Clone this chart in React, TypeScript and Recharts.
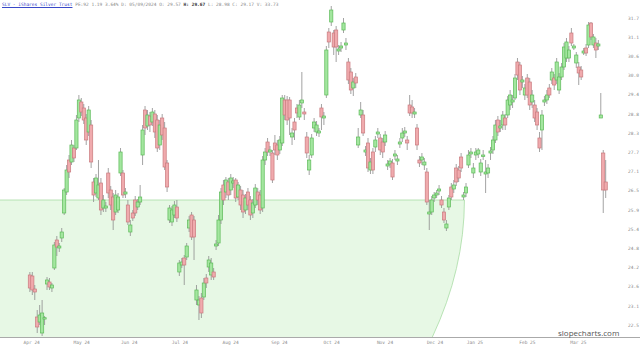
import { ComposedChart, Bar, XAxis, YAxis, ReferenceArea } from 'recharts';

// daily OHLC
const opens = [
  24.00, 23.97, 23.58, 22.74, 22.59, 22.26, 22.68, 23.73, 23.79, 23.61,
  24.21, 25.05, 24.81, 25.11, 25.86, 26.49, 27.45, 27.39, 27.81, 27.81,
  28.71, 29.19, 29.01, 28.71, 28.29, 28.50, 26.79, 26.46, 26.31, 26.76,
  26.01, 26.01, 27.06, 26.55, 26.34, 25.89, 25.95, 27.06, 27.06, 26.43,
  26.10, 25.29, 25.86, 26.25, 26.04, 26.19, 27.60, 28.95, 28.47, 28.77,
  28.59, 28.83, 28.65, 27.90, 28.71, 28.41, 27.36, 25.65, 25.59, 25.80,
  26.04, 24.09, 24.30, 24.51, 24.54, 25.41, 25.80, 25.65, 23.25, 23.10,
  23.31, 23.34, 23.91, 24.24, 24.00, 24.09, 24.87, 24.96, 25.65, 26.70,
  26.49, 26.79, 26.55, 26.76, 26.85, 26.34, 26.55, 26.40, 25.95, 26.49,
  26.25, 25.86, 26.10, 26.49, 26.40, 26.01, 27.45, 27.99, 27.69, 27.66,
  27.96, 27.90, 27.75, 27.96, 29.25, 29.25, 29.25, 28.14, 28.59, 29.01,
  28.74, 29.16, 28.89, 28.14, 27.15, 27.60, 28.41, 28.29, 28.26, 29.01,
  28.71, 29.40, 31.29, 31.59, 31.26, 31.35, 30.72, 30.81, 31.35, 30.90,
  30.39, 30.09, 29.61, 29.94, 27.90, 28.80, 28.80, 27.69, 27.96, 27.15,
  27.69, 27.84, 28.23, 28.11, 27.99, 27.99, 27.27, 27.33, 27.36, 27.57,
  27.42, 27.93, 28.11, 28.26, 28.05, 29.10, 29.04, 28.83, 28.41, 27.45,
  27.45, 27.30, 27.09, 25.83, 25.89, 26.31, 26.40, 26.52, 26.25, 25.89,
  25.41, 26.04, 26.64, 26.58, 27.21, 27.15, 27.54, 26.34, 26.46, 27.30,
  27.63, 27.06, 27.60, 27.63, 27.09, 27.57, 27.03, 27.06, 27.66, 27.75,
  28.05, 28.65, 28.41, 28.50, 28.71, 28.80, 29.10, 29.19, 29.31, 30.39,
  30.30, 29.79, 29.40, 29.91, 29.79, 29.19, 29.10, 28.89, 28.11, 28.35,
  29.19, 29.25, 29.61, 29.85, 29.91, 29.85, 29.55, 29.94, 30.24, 30.51,
  30.51, 31.26, 30.81, 30.36, 30.24, 30.15, 30.66, 30.81, 30.90, 31.56,
  30.90, 30.96, 30.87, 28.71, 27.66, 26.79,
];

const highs = [
  24.09, 24.09, 23.70, 22.95, 23.10, 23.25, 22.77, 23.94, 23.91, 23.76,
  24.99, 25.17, 24.96, 25.41, 26.61, 27.30, 27.60, 28.05, 27.90, 28.80,
  29.40, 29.31, 29.13, 28.83, 29.07, 28.65, 26.91, 27.03, 27.45, 26.91,
  26.40, 26.19, 27.21, 26.67, 26.46, 26.55, 26.46, 27.81, 27.15, 26.61,
  26.25, 25.65, 25.95, 26.37, 26.28, 26.70, 28.50, 29.07, 28.95, 28.89,
  29.01, 28.95, 28.80, 28.65, 28.83, 28.59, 27.45, 26.10, 26.07, 26.22,
  26.25, 24.45, 24.51, 24.60, 24.96, 25.77, 25.89, 25.77, 23.70, 23.37,
  23.46, 23.91, 24.03, 24.57, 24.51, 24.21, 25.05, 25.80, 26.61, 26.85,
  26.94, 26.91, 27.03, 26.94, 26.91, 26.79, 26.67, 26.55, 26.43, 26.61,
  26.37, 26.28, 26.73, 26.61, 26.55, 27.57, 27.81, 28.11, 27.87, 27.75,
  28.20, 28.05, 28.17, 29.40, 29.40, 29.37, 29.34, 28.41, 28.71, 29.13,
  29.25, 30.09, 29.01, 28.29, 27.60, 28.23, 28.71, 28.62, 28.41, 29.13,
  28.89, 30.87, 31.41, 32.07, 31.35, 31.47, 30.90, 30.99, 31.71, 31.11,
  30.51, 30.21, 29.91, 30.06, 28.41, 29.19, 28.95, 27.87, 28.11, 27.51,
  27.81, 28.17, 28.41, 28.23, 28.11, 28.32, 27.45, 27.51, 27.48, 27.75,
  27.60, 28.11, 28.41, 28.44, 28.17, 29.40, 29.25, 29.01, 28.53, 27.57,
  27.66, 27.51, 27.21, 26.25, 26.37, 26.49, 26.55, 26.70, 26.37, 26.01,
  25.65, 26.40, 26.76, 26.85, 27.33, 27.27, 27.66, 26.49, 26.76, 27.75,
  27.81, 27.36, 27.81, 27.81, 27.48, 27.75, 27.45, 27.33, 27.84, 28.17,
  28.65, 28.77, 28.65, 28.92, 28.83, 29.37, 29.55, 29.40, 30.03, 30.51,
  30.39, 29.97, 29.73, 30.03, 29.91, 29.55, 29.25, 29.01, 28.29, 28.95,
  29.37, 29.55, 29.73, 30.21, 30.03, 30.51, 30.06, 30.36, 30.96, 31.11,
  30.87, 31.41, 30.93, 30.69, 30.39, 30.27, 30.81, 30.93, 31.59, 31.59,
  31.23, 31.11, 31.05, 29.46, 27.75, 27.45,
];

const lows = [
  23.49, 23.40, 23.25, 22.26, 22.50, 22.17, 22.50, 23.55, 23.55, 23.49,
  24.15, 24.57, 24.69, 24.99, 25.80, 26.40, 26.91, 27.30, 27.39, 27.75,
  28.59, 28.77, 28.53, 27.90, 28.17, 27.21, 26.19, 26.34, 26.25, 25.80,
  25.89, 25.89, 26.31, 25.95, 25.35, 25.80, 25.86, 26.97, 26.31, 26.31,
  25.50, 25.17, 25.62, 25.77, 25.95, 26.10, 27.30, 28.20, 28.35, 28.29,
  28.47, 28.11, 27.69, 27.75, 28.05, 27.15, 26.49, 25.56, 25.47, 25.71,
  25.59, 23.97, 24.21, 23.70, 24.45, 25.29, 25.05, 24.45, 23.10, 22.65,
  22.71, 23.25, 23.61, 24.09, 23.85, 23.85, 24.75, 24.87, 25.53, 26.10,
  26.31, 26.25, 26.40, 26.61, 26.19, 26.25, 25.95, 25.71, 25.83, 25.95,
  25.65, 25.71, 26.01, 26.10, 25.83, 25.89, 27.30, 27.57, 27.57, 26.76,
  27.60, 27.45, 27.63, 27.87, 28.65, 28.50, 28.20, 27.90, 28.05, 28.71,
  28.65, 29.01, 28.65, 27.51, 27.00, 27.51, 28.29, 28.17, 28.14, 28.35,
  28.50, 29.31, 30.81, 31.47, 30.60, 30.39, 30.60, 30.69, 31.26, 30.75,
  29.73, 29.43, 29.37, 29.61, 27.81, 28.71, 28.17, 27.57, 27.09, 27.03,
  27.03, 27.69, 28.11, 27.60, 27.51, 27.87, 27.15, 27.21, 26.85, 27.45,
  27.30, 27.81, 27.99, 28.14, 27.75, 28.77, 28.71, 28.71, 27.75, 27.24,
  27.30, 27.15, 26.10, 25.35, 25.80, 26.19, 26.31, 26.40, 26.01, 25.56,
  25.32, 25.95, 26.25, 26.46, 26.67, 26.79, 27.09, 26.25, 26.34, 27.21,
  27.51, 26.91, 27.45, 27.51, 26.97, 27.45, 26.46, 26.91, 27.45, 27.63,
  27.96, 28.17, 28.29, 28.35, 28.35, 28.71, 28.95, 29.01, 29.25, 29.85,
  29.40, 29.61, 29.25, 29.31, 28.95, 29.01, 28.59, 28.35, 27.69, 27.75,
  29.07, 29.13, 29.31, 29.73, 29.55, 29.73, 29.43, 29.85, 30.15, 30.39,
  30.39, 30.87, 30.75, 30.21, 29.70, 29.85, 30.60, 30.57, 30.81, 31.05,
  30.81, 30.51, 30.75, 28.71, 25.86, 26.31,
];

const closes = [
  23.61, 23.55, 23.49, 22.44, 22.80, 22.86, 22.72, 23.85, 23.64, 23.70,
  24.90, 24.84, 24.87, 25.29, 26.55, 27.15, 27.09, 27.90, 27.51, 28.65,
  29.25, 28.89, 28.65, 28.05, 28.95, 27.39, 26.40, 26.91, 26.70, 25.95,
  26.25, 26.07, 26.46, 26.10, 25.65, 26.40, 26.34, 27.69, 26.40, 26.49,
  25.59, 25.50, 25.71, 25.86, 26.19, 26.34, 28.35, 28.41, 28.80, 28.50,
  28.89, 28.29, 27.81, 28.50, 28.20, 27.24, 26.64, 26.01, 25.95, 26.10,
  25.71, 24.36, 24.39, 24.30, 24.87, 25.65, 25.14, 25.14, 23.55, 23.25,
  22.86, 23.76, 23.76, 24.45, 24.36, 23.94, 24.93, 25.65, 26.49, 26.25,
  26.85, 26.40, 26.91, 26.82, 26.31, 26.70, 26.10, 25.89, 26.31, 26.10,
  25.80, 26.16, 26.61, 26.25, 25.95, 27.45, 27.69, 27.69, 27.75, 26.85,
  27.75, 27.60, 28.05, 29.31, 28.80, 28.65, 28.71, 28.26, 28.35, 28.86,
  29.10, 29.25, 28.83, 27.66, 27.45, 28.11, 28.59, 28.50, 28.32, 28.74,
  28.77, 30.75, 30.99, 31.95, 30.84, 30.84, 30.78, 30.87, 31.56, 30.96,
  29.85, 29.55, 29.79, 29.76, 28.14, 28.95, 28.26, 27.75, 27.21, 27.39,
  27.15, 28.05, 28.29, 27.75, 27.69, 28.20, 27.33, 27.42, 26.94, 27.63,
  27.48, 27.99, 28.26, 28.32, 27.96, 28.86, 28.86, 28.89, 27.90, 27.36,
  27.54, 27.39, 26.19, 25.89, 26.25, 26.40, 26.46, 26.58, 26.10, 25.65,
  25.53, 26.31, 26.34, 26.70, 26.79, 26.91, 27.21, 26.40, 26.64, 27.60,
  27.69, 27.21, 27.69, 27.75, 27.36, 27.60, 27.09, 27.21, 27.72, 28.05,
  28.50, 28.29, 28.47, 28.80, 28.50, 29.25, 29.40, 29.25, 29.91, 30.00,
  29.55, 29.85, 29.61, 29.40, 29.10, 29.40, 28.71, 28.50, 27.81, 28.80,
  29.25, 29.40, 29.40, 30.09, 29.70, 30.39, 29.94, 30.24, 30.84, 30.99,
  30.75, 30.96, 30.87, 30.60, 30.06, 29.94, 30.72, 30.66, 31.50, 31.14,
  31.14, 30.75, 30.93, 28.80, 26.55, 26.55,
];

const monthTicks = [0.7, 21.1, 40.5, 61.2, 81.9, 101.8, 123.1, 144.9, 165.3, 181.6, 203, 223.8];
const monthLabels = ['Apr 24', 'May 24', 'Jun 24', 'Jul 24', 'Aug 24', 'Sep 24', 'Oct 24', 'Nov 24', 'Dec 24', 'Jan 25', 'Feb 25', 'Mar 25'];

const priceTicks = [31.71, 31.13, 30.56, 29.98, 29.41, 28.83, 28.25, 27.68, 27.10, 26.53, 25.95, 25.37, 24.80, 24.22, 23.65, 23.07, 22.49];

// shaded zone: price level and the bar where its curved edge starts
const zoneLevel = 26.25;
const zoneEnd = 177.3;

const xDomain = [-12.24, 238.75];
const yDomain = [22.14, 32.25];

const data = opens.map((o, i) => ({
  i,
  o,
  h: highs[i],
  l: lows[i],
  c: closes[i],
  range: [lows[i], highs[i]],
}));

const Candle = (props: any) => {
  const { x, y, width, height, payload } = props;
  if (x == null || y == null) return null;
  const { o, h, l, c } = payload;
  const top = Math.min(y, y + height);
  const hh = Math.abs(height);
  const k = h === l ? 0 : hh / (h - l);
  const py = (v: number) => top + (h - v) * k;
  const cx = x + width / 2;
  const up = c >= o;
  const bTop = py(Math.max(o, c));
  const bBot = py(Math.min(o, c));
  const bh = Math.max(bBot - bTop, 1.4);
  return (
    <g>
      <line x1={cx} x2={cx} y1={top} y2={top + hh} stroke="#8c8c8c" strokeWidth={0.8} />
      <rect
        x={cx - 1.6}
        y={bTop}
        width={3.2}
        height={bh}
        fill={up ? '#a3e69f' : '#f0aaad'}
        stroke={up ? '#5cba58' : '#c97a7e'}
        strokeWidth={0.7}
      />
    </g>
  );
};

const Zone = (props: any) => {
  const { x, y, width, height } = props;
  const r = x + width;
  const b = y + height;
  const edge = `M${x},${y} L${r},${y} Q${r},${y + height / 2} ${r - height * 0.234},${b}`;
  return (
    <g>
      <path d={`${edge} L${x},${b} Z`} fill="#e7f8e5" stroke="none" />
      <path d={edge} fill="none" stroke="#a8dca4" strokeWidth={0.8} />
    </g>
  );
};

export default function App() {
  return (
    <div style={{ position: 'absolute', left: 0, top: 0, width: 640, height: 349, background: '#fff', overflow: 'hidden' }}>
      <ComposedChart width={640} height={349} data={data} margin={{ top: 0, right: 0, left: 0, bottom: 0 }}>
        <ReferenceArea
          x1={xDomain[0]}
          x2={zoneEnd}
          y1={yDomain[0]}
          y2={zoneLevel}
          shape={<Zone />}
          ifOverflow="hidden"
        />
        <XAxis
          dataKey="i"
          type="number"
          domain={xDomain}
          allowDataOverflow
          ticks={monthTicks}
          interval={0}
          tickFormatter={(v) => monthLabels[monthTicks.indexOf(v)] ?? ''}
          axisLine={false}
          tickLine={false}
          tickSize={0}
          tickMargin={4}
          height={12}
          tick={{ fill: '#8a8a8a', fontSize: 4.5, fontFamily: 'DejaVu Sans Mono' }}
        />
        <YAxis
          orientation="right"
          type="number"
          domain={yDomain}
          allowDataOverflow
          ticks={priceTicks}
          interval={0}
          tickFormatter={(v) => Number(v).toFixed(1)}
          axisLine={false}
          tickLine={false}
          tickSize={0}
          tickMargin={13}
          width={25}
          tick={{ fill: '#8a8a8a', fontSize: 4.5, fontFamily: 'DejaVu Sans Mono' }}
        />
        <Bar dataKey="range" barSize={3} shape={<Candle />} isAnimationActive={false} />
      </ComposedChart>
      <div style={{ position: 'absolute', left: 0, top: 337, width: 640, height: 1, background: '#aaaaaa' }} />
      <div
        style={{
          position: 'absolute',
          left: 2,
          top: 2,
          fontFamily: 'DejaVu Sans Mono',
          fontSize: 4.5,
          lineHeight: '6px',
          whiteSpace: 'nowrap',
          color: '#8a8a8a',
        }}
      >
        <span style={{ color: '#3848c8', textDecoration: 'underline' }}>SLV - iShares Silver Trust</span>{' '}
        PE:92 1.19 3.64% D: 05/09/2024 O: 29.57 <b style={{ color: '#333' }}>H: 29.67</b> L: 28.98 C: 29.17 V: 33.73
      </div>
      <div
        style={{
          position: 'absolute',
          left: 558,
          top: 328,
          fontFamily: 'Open Sans',
          fontSize: 8,
          lineHeight: '10px',
          color: '#555',
          fontWeight: 500,
        }}
      >
        slopecharts.com
      </div>
    </div>
  );
}
